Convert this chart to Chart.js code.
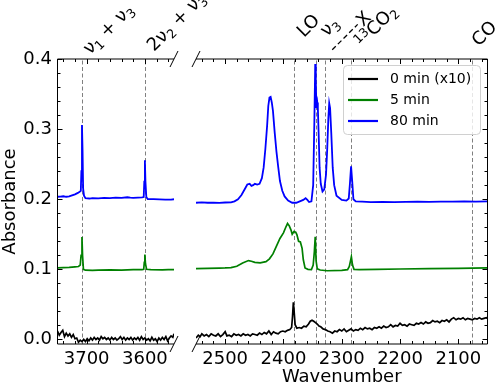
<!DOCTYPE html>
<html><head><meta charset="utf-8">
<script src="https://cdn.jsdelivr.net/npm/chart.js@4.4.0/dist/chart.umd.min.js"></script>
<style>
html,body{margin:0;padding:0;background:#fff;}
#wrap{position:relative;width:498px;height:388px;overflow:hidden;background:#fff;}
canvas{position:absolute;top:0;}
#cL{left:0;}
#cR{left:185px;}
</style></head>
<body><div id="wrap"><canvas id="cL" width="240" height="388"></canvas><canvas id="cR" width="313" height="388"></canvas></div>
<script>
// ---------- DATA ----------
const seriesNames = ['0 min (x10)', '5 min', '80 min'];
const seriesColors = ['#000000', '#008000', '#0000ff'];

const yTicks = [0.0, 0.1, 0.2, 0.3, 0.4];
const xTicksLeft = [3700, 3600];
const xTicksRight = [2500, 2400, 2300, 2200, 2100];
const xRangeLeft = [3550, 3750];
const xRangeRight = [2050, 2550];
const yRange = [-0.0065, 0.4];

// left panel (3750-3550 cm-1)
const wnL0 = [3750,3747,3744,3741,3738,3735,3732,3729,3726,3723,3720,3717,3714,3711,3708,3705,3702,3699,3696,3693,3690,3687,3684,3681,3678,3675,3672,3669,3666,3663,3660,3657,3654,3651,3648,3645,3642,3639,3636,3633,3630,3627,3624,3621,3618,3615,3612,3609,3606,3603,3600,3597,3594,3591,3588,3585,3582,3579,3576,3573,3570,3567,3564,3561,3558,3555,3552,3550];
const absL0 = [0.012,0.006,0.010,0.013,0.004,0.009,0.005,0.008,0.003,0.007,0.001,0.002,-0.004,-0.001,-0.003,0.0,-0.003,0.001,-0.002,0.002,-0.001,0.003,0.0,0.002,-0.001,0.004,0.001,0.003,0.0,0.002,-0.001,0.003,0.0,0.002,-0.001,0.001,0.004,0.0,0.003,-0.001,0.002,0.0,0.003,-0.001,0.002,0.0,0.003,-0.001,0.004,0.0,0.002,-0.001,0.001,-0.002,0.003,-0.001,0.001,-0.003,0.002,-0.001,0.003,0.0,0.004,-0.002,0.002,0.005,0.003,0.008];

const wnL5 = [3750,3740,3730,3720,3714,3711,3709.5,3708,3707,3705.5,3702,3690,3680,3660,3640,3620,3605,3602,3601,3600,3599,3597,3590,3570,3560,3550];
const absL5 = [0.102,0.1025,0.1028,0.1035,0.104,0.106,0.12,0.146,0.12,0.1,0.0988,0.0985,0.099,0.0992,0.099,0.0995,0.0995,0.1,0.11,0.121,0.108,0.1,0.0995,0.0993,0.0995,0.0995];

const wnL80 = [3750,3745,3740,3735,3730,3725,3720,3715,3712,3710,3709,3708,3707,3706,3704.5,3702,3695,3690,3680,3670,3660,3650,3640,3630,3625,3620,3612,3605,3602,3601,3600,3599,3597.5,3595,3585,3575,3565,3555,3550];
const absL80 = [0.2035,0.2038,0.2042,0.2035,0.204,0.2055,0.207,0.209,0.2105,0.212,0.24,0.306,0.27,0.215,0.205,0.2015,0.201,0.2015,0.2012,0.2018,0.2015,0.2022,0.2018,0.2028,0.2022,0.2018,0.2022,0.2025,0.203,0.225,0.2555,0.225,0.203,0.2,0.2,0.1998,0.1995,0.1995,0.2];

// right panel (2550-2050 cm-1)
const wnR0 = [2550,2546,2543,2540,2536,2532,2528,2524,2520,2516,2512,2508,2504,2500,2497,2493,2489,2485,2481,2477,2473,2469,2465,2461,2457,2453,2449,2445,2441,2437,2433,2429,2425,2421,2417,2413,2409,2405,2401,2397,2393,2389,2386,2384.5,2383,2381.5,2380,2377,2373,2369,2365,2361,2357,2354,2351,2348,2345,2342,2339,2336,2332,2328,2324,2320,2316,2312,2308,2304,2300,2296,2292,2288,2284,2280,2276,2272,2268,2264,2260,2256,2252,2248,2244,2240,2236,2232,2228,2224,2220,2216,2212,2208,2204,2200,2196,2192,2188,2184,2180,2176,2172,2168,2164,2160,2156,2152,2148,2144,2140,2136,2132,2128,2124,2120,2116,2112,2108,2104,2100,2096,2092,2088,2084,2080,2076,2072,2068,2064,2060,2056,2052,2050];
const absR0 = [0.002,0.006,0.004,0.008,0.005,0.007,0.004,0.008,0.006,0.005,0.008,0.004,0.007,0.011,0.005,0.006,0.004,0.008,0.006,0.007,0.005,0.008,0.006,0.007,0.005,0.008,0.007,0.006,0.009,0.007,0.010,0.008,0.012,0.007,0.011,0.009,0.008,0.011,0.012,0.011,0.013,0.014,0.017,0.032,0.053,0.038,0.021,0.016,0.017,0.016,0.019,0.018,0.022,0.026,0.0275,0.026,0.024,0.022,0.019,0.018,0.015,0.014,0.012,0.011,0.009,0.012,0.011,0.014,0.012,0.015,0.011,0.013,0.015,0.012,0.014,0.013,0.016,0.014,0.017,0.015,0.016,0.014,0.017,0.016,0.018,0.016,0.019,0.017,0.018,0.021,0.018,0.020,0.019,0.023,0.020,0.021,0.019,0.022,0.021,0.020,0.023,0.022,0.024,0.022,0.025,0.023,0.024,0.027,0.025,0.026,0.024,0.027,0.026,0.028,0.025,0.029,0.031,0.028,0.030,0.029,0.031,0.028,0.030,0.029,0.028,0.030,0.029,0.031,0.029,0.030,0.031,0.030];

const wnR5 = [2550,2530,2510,2500,2490,2480,2470,2460,2455,2449,2440,2430,2424,2418,2412,2406,2400,2396,2393,2390,2387,2385,2382,2379,2377,2374,2371,2368,2366,2363,2358,2352,2349,2347,2345.5,2344,2342,2337,2325,2300,2290,2287,2285,2283.5,2281.5,2279,2270,2240,2200,2150,2100,2050];
const absR5 = [0.101,0.1015,0.1018,0.102,0.1025,0.1044,0.109,0.1125,0.1115,0.110,0.1092,0.111,0.115,0.122,0.133,0.144,0.152,0.16,0.1655,0.162,0.156,0.15,0.154,0.153,0.1496,0.14,0.139,0.13,0.114,0.102,0.1,0.0997,0.106,0.125,0.1465,0.112,0.1007,0.099,0.098,0.0985,0.0995,0.104,0.112,0.118,0.106,0.1,0.0995,0.1,0.1005,0.101,0.1015,0.102];

const wnR80 = [2550,2540,2530,2520,2510,2500,2490,2484,2478,2472,2466,2462,2458,2455,2452,2449,2445,2441,2437,2434,2431,2428,2426,2424,2422,2420,2418,2415,2412,2409,2406,2402,2398,2392,2385,2378,2372,2366,2362,2359,2356,2352,2349,2347,2345.5,2344.5,2343.5,2342,2341,2339.5,2338,2336,2333,2330,2327,2325,2323,2321.5,2320,2318,2315.5,2313,2309,2300,2292,2288,2286,2284,2282,2280,2276,2265,2250,2230,2210,2190,2170,2150,2130,2110,2090,2070,2050];
const absR80 = [0.195,0.1955,0.195,0.1952,0.1948,0.1953,0.1955,0.197,0.2,0.206,0.215,0.221,0.222,0.219,0.22,0.222,0.221,0.222,0.23,0.245,0.272,0.305,0.333,0.345,0.346,0.338,0.326,0.295,0.268,0.246,0.226,0.212,0.204,0.198,0.195,0.195,0.197,0.199,0.2015,0.199,0.196,0.197,0.22,0.31,0.393,0.37,0.33,0.338,0.33,0.29,0.245,0.222,0.211,0.214,0.235,0.27,0.315,0.337,0.33,0.295,0.245,0.22,0.205,0.199,0.198,0.201,0.222,0.247,0.225,0.2,0.197,0.1965,0.196,0.1962,0.1958,0.1962,0.1965,0.1963,0.1967,0.1965,0.1968,0.1966,0.197];

// band positions (dashed markers) and their labels
const bandsLeft = [3708, 3600];
const bandsRight = [2382, 2344, 2328, 2284, 2077];
const bandLabelsLeft = [
  [{t:'ν'},{t:'1',k:'sub'},{t:' + ν'},{t:'3',k:'sub'}],
  [{t:'2ν'},{t:'2',k:'sub'},{t:' + ν'},{t:'3',k:'sub'}]
];
const bandLabelsRight = [
  [{t:'LO'}],
  [{t:'ν'},{t:'3',k:'sub'}],
  [{dash:36},{t:'X'}],
  [{t:'13',k:'sup'},{t:'CO'},{t:'2',k:'sub'}],
  [{t:'CO'}]
];

// ---------- STYLE / HELPERS ----------
const FONT = '"DejaVu Sans", sans-serif';
const LABEL_SIZE = 18;
const labelOffsetsLeft = [[8,-4],[9,-7]];
const labelOffsetsRight = [[10,-21],[11,-22],[11,-5],[11,-11],[7,-12]];

function zip(xs, ys){ return xs.map((x,i)=>({x:x, y:ys[i]})); }

function drawRich(ctx, x, y, segs, size){
  ctx.save();
  ctx.translate(x, y);
  ctx.rotate(-Math.PI/4);
  ctx.fillStyle = '#000';
  ctx.textBaseline = 'alphabetic';
  ctx.textAlign = 'left';
  let cx = 0;
  for (const s of segs){
    if (s.dash){
      ctx.save();
      ctx.strokeStyle = '#000'; ctx.lineWidth = 1.3;
      ctx.setLineDash([5,3]);
      ctx.beginPath(); ctx.moveTo(cx, -size*0.33); ctx.lineTo(cx+s.dash, -size*0.33); ctx.stroke();
      ctx.restore();
      cx += s.dash + 2;
      continue;
    }
    const fs = s.k ? size*0.7 : size;
    const oy = s.k==='sub' ? size*0.22 : (s.k==='sup' ? -size*0.3 : 0);
    ctx.font = fs + 'px ' + FONT;
    ctx.fillText(s.t, cx, oy);
    cx += ctx.measureText(s.t).width;
  }
  ctx.restore();
}

const decor = {
  id: 'decor',
  beforeDatasetsDraw(chart){
    const o = chart.options.plugins.decor;
    const ctx = chart.ctx, a = chart.chartArea, xs = chart.scales.x;
    ctx.save();
    ctx.strokeStyle = '#808080'; ctx.lineWidth = 1;
    ctx.setLineDash([4, 2.5]);
    for (const b of o.bands){
      const px = Math.round(xs.getPixelForValue(b)) + 0.5;
      ctx.beginPath(); ctx.moveTo(px, a.bottom); ctx.lineTo(px, a.top); ctx.stroke();
    }
    ctx.restore();
  },
  afterDraw(chart){
    const o = chart.options.plugins.decor;
    const ctx = chart.ctx, a = chart.chartArea, xs = chart.scales.x, ys = chart.scales.y;
    ctx.save();
    ctx.strokeStyle = '#000'; ctx.lineWidth = 1;
    ctx.beginPath();
    ctx.moveTo(a.left, a.top); ctx.lineTo(a.right, a.top);
    ctx.moveTo(a.left, a.bottom); ctx.lineTo(a.right, a.bottom);
    if (o.side === 'left'){ ctx.moveTo(a.left, a.top); ctx.lineTo(a.left, a.bottom); }
    else { ctx.moveTo(a.right, a.top); ctx.lineTo(a.right, a.bottom); }
    ctx.stroke();
    ctx.beginPath();
    const xmin = xs.min, xmax = xs.max;
    for (let v = Math.ceil(xmin/20)*20; v <= xmax; v += 20){
      const px = Math.round(xs.getPixelForValue(v)) + 0.5;
      const len = (v % 100 === 0) ? 5 : 3;
      ctx.moveTo(px, a.top); ctx.lineTo(px, a.top + len);
      ctx.moveTo(px, a.bottom); ctx.lineTo(px, a.bottom - len);
    }
    for (let i = 0; i <= 20; i++){
      const py = Math.round(ys.getPixelForValue(i*0.02)) + 0.5;
      const len = (i % 5 === 0) ? 5 : 3;
      if (o.side === 'left'){ ctx.moveTo(a.left, py); ctx.lineTo(a.left + len, py); }
      else { ctx.moveTo(a.right, py); ctx.lineTo(a.right - len, py); }
    }
    ctx.stroke();
    const bx = o.side === 'left' ? a.right : a.left;
    ctx.beginPath();
    for (const by of [a.top, a.bottom]){
      ctx.moveTo(bx - 4, by + 8); ctx.lineTo(bx + 4, by - 8);
    }
    ctx.stroke();
    ctx.restore();
    o.bands.forEach((b, i) => {
      const px = xs.getPixelForValue(b);
      const off = o.offsets[i];
      drawRich(ctx, px + off[0], a.top + off[1], o.labels[i], LABEL_SIZE);
    });
    if (o.legend){
      const w = 137, h = 69;
      const bx0 = a.right - 7.5 - w, by0 = a.top + 6;
      ctx.save();
      ctx.beginPath();
      if (ctx.roundRect) ctx.roundRect(bx0 + 0.5, by0 + 0.5, w, h, 4); else ctx.rect(bx0+0.5, by0+0.5, w, h);
      ctx.fillStyle = 'rgba(255,255,255,0.8)'; ctx.fill();
      ctx.strokeStyle = '#d0d0d0'; ctx.lineWidth = 1; ctx.stroke();
      chart.data.datasets.forEach((d, i) => {
        const cy = by0 + 14 + i*21;
        ctx.strokeStyle = d.borderColor; ctx.lineWidth = 2.2;
        ctx.beginPath(); ctx.moveTo(bx0 + 5, cy); ctx.lineTo(bx0 + 35, cy); ctx.stroke();
        ctx.fillStyle = '#000'; ctx.font = '14px ' + FONT;
        ctx.textBaseline = 'middle'; ctx.textAlign = 'left';
        ctx.fillText(d.label, bx0 + 47, cy);
      });
      ctx.restore();
    }
  }
};

function datasets(wns, abss){
  return wns.map((w, i) => ({
    label: seriesNames[i],
    data: zip(w, abss[i]),
    borderColor: seriesColors[i],
    backgroundColor: seriesColors[i],
    borderWidth: i === 2 ? 1.8 : 1.7,
    pointRadius: 0,
    tension: 0,
    fill: false
  }));
}

const tickFont = {family: FONT, size: 18};

function makeChart(id, cfg){
  const isLeft = cfg.side === 'left';
  return new Chart(document.getElementById(id), {
    type: 'line',
    data: {datasets: datasets(cfg.wns, cfg.abss)},
    options: {
      responsive: false, animation: false, devicePixelRatio: 1,
      parsing: false,
      layout: {padding: cfg.padding},
      plugins: {
        legend: {display: false}, tooltip: {enabled: false},
        decor: {side: cfg.side, bands: cfg.bands, labels: cfg.labels, offsets: cfg.offsets, legend: cfg.legend}
      },
      scales: {
        x: {
          type: 'linear', min: cfg.xRange[0], max: cfg.xRange[1], reverse: true,
          afterBuildTicks: s => { s.ticks = cfg.xTicks.map(v => ({value: v})); },
          afterFit: s => { s.height = 44; },
          grid: {display: false, drawTicks: false}, border: {display: false},
          ticks: {font: tickFont, color: '#000', padding: 5, maxRotation: 0, autoSkip: false, callback: v => String(v)},
          title: {display: cfg.xTitle, text: 'Wavenumber', font: tickFont, color: '#000', padding: {top: 0, bottom: 0}}
        },
        y: {
          type: 'linear', min: yRange[0], max: yRange[1], display: isLeft,
          afterBuildTicks: s => { s.ticks = yTicks.map(v => ({value: v})); },
          afterFit: s => { s.width = isLeft ? 57.5 : 0; },
          grid: {display: false, drawTicks: false}, border: {display: false},
          ticks: {font: tickFont, color: '#000', padding: 5.5, callback: v => Number(v).toFixed(1)},
          title: {display: isLeft, text: 'Absorbance', font: tickFont, color: '#000', padding: {top: 0, bottom: 0}}
        }
      }
    },
    plugins: [decor]
  });
}

makeChart('cL', {
  wns: [wnL0, wnL5, wnL80], abss: [absL0, absL5, absL80],
  xRange: xRangeLeft, xTicks: xTicksLeft, xTitle: false,
  padding: {top: 59, right: 66, left: 0, bottom: 0},
  side: 'left', bands: bandsLeft, labels: bandLabelsLeft, offsets: labelOffsetsLeft, legend: false
});
makeChart('cR', {
  wns: [wnR0, wnR5, wnR80], abss: [absR0, absR5, absR80],
  xRange: xRangeRight, xTicks: xTicksRight, xTitle: true,
  padding: {top: 59, right: 10.5, left: 11, bottom: 0},
  side: 'right', bands: bandsRight, labels: bandLabelsRight, offsets: labelOffsetsRight, legend: true
});
</script>
</body></html>
